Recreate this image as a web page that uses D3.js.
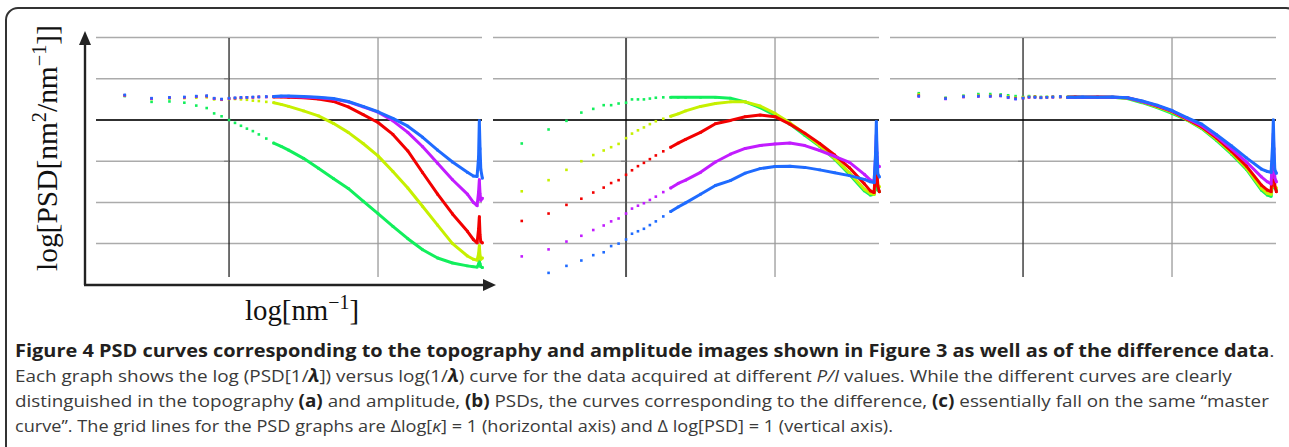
<!DOCTYPE html>
<html>
<head>
<meta charset="utf-8">
<script src="https://cdn.jsdelivr.net/npm/d3@7"></script>
<style>
  body { margin: 0; background: #fff; }
  svg { display: block; }
</style>
</head>
<body>
<div id="chart"></div>
<script>
// log10 of spatial frequency (grid unit = one decade)
const logK = [-0.70, -0.52, -0.40, -0.30, -0.22, -0.15, -0.10, -0.05, 0.00, 0.04, 0.08, 0.12, 0.16, 0.20, 0.25, 0.30, 0.35, 0.40, 0.50, 0.60, 0.70, 0.80, 0.90, 1.00, 1.10, 1.20, 1.30, 1.40, 1.50, 1.60, 1.64, 1.665, 1.675, 1.68, 1.685, 1.69, 1.70];

// (a) topography
const topoGreen   = [0.58, 0.44, 0.45, 0.42, 0.35, 0.29, 0.16, 0.09, 0.00, -0.07, -0.14, -0.21, -0.27, -0.35, -0.45, -0.56, -0.64, -0.73, -0.93, -1.17, -1.42, -1.66, -1.97, -2.27, -2.58, -2.88, -3.15, -3.35, -3.47, -3.54, -3.56, -3.57, -3.50, -3.42, -3.50, -3.56, -3.58];
const topoYellow  = [0.59, 0.51, 0.52, 0.53, 0.54, 0.55, 0.50, 0.49, 0.51, 0.51, 0.50, 0.49, 0.47, 0.46, 0.44, 0.42, 0.38, 0.33, 0.22, 0.10, -0.08, -0.30, -0.57, -0.87, -1.25, -1.65, -2.10, -2.55, -3.00, -3.30, -3.38, -3.40, -3.25, -3.05, -3.30, -3.38, -3.35];
const topoRed     = [0.60, 0.52, 0.54, 0.55, 0.57, 0.58, 0.52, 0.50, 0.52, 0.53, 0.54, 0.55, 0.55, 0.56, 0.56, 0.56, 0.56, 0.55, 0.54, 0.51, 0.45, 0.32, 0.13, -0.06, -0.35, -0.75, -1.28, -1.80, -2.28, -2.70, -2.90, -2.98, -2.65, -2.35, -2.80, -2.95, -2.98];
const topoMagenta = [0.60, 0.52, 0.54, 0.55, 0.57, 0.58, 0.52, 0.50, 0.52, 0.53, 0.54, 0.55, 0.55, 0.56, 0.56, 0.57, 0.57, 0.57, 0.56, 0.54, 0.51, 0.44, 0.32, 0.19, -0.02, -0.30, -0.65, -1.05, -1.45, -1.80, -2.00, -2.08, -1.75, -1.45, -1.80, -1.95, -1.90];
const topoBlue    = [0.61, 0.53, 0.55, 0.56, 0.58, 0.59, 0.53, 0.51, 0.53, 0.54, 0.55, 0.55, 0.56, 0.56, 0.57, 0.57, 0.58, 0.58, 0.57, 0.55, 0.52, 0.45, 0.33, 0.20, 0.04, -0.15, -0.42, -0.73, -1.02, -1.27, -1.36, -1.37, -0.90, -0.02, -0.70, -1.20, -1.41];

// (b) amplitude
const ampGreen   = [-0.57, -0.23, -0.02, 0.18, 0.27, 0.36, 0.36, 0.40, 0.42, 0.50, 0.50, 0.50, 0.52, 0.54, 0.55, 0.55, 0.55, 0.55, 0.55, 0.55, 0.53, 0.44, 0.30, 0.12, -0.10, -0.37, -0.64, -0.95, -1.32, -1.72, -1.82, -1.80, -1.60, -1.50, -1.60, -1.70, -1.74];
const ampYellow  = [-1.73, -1.46, -1.21, -1.00, -0.85, -0.74, -0.66, -0.58, -0.44, -0.33, -0.25, -0.18, -0.10, -0.03, 0.03, 0.09, 0.15, 0.22, 0.33, 0.40, 0.44, 0.44, 0.34, 0.16, -0.07, -0.33, -0.62, -0.93, -1.28, -1.68, -1.78, -1.80, -1.20, -0.65, -1.30, -1.58, -1.62];
const ampRed     = [-2.45, -2.27, -2.06, -1.91, -1.76, -1.64, -1.53, -1.46, -1.33, -1.22, -1.12, -1.04, -0.95, -0.86, -0.76, -0.66, -0.56, -0.47, -0.30, -0.09, -0.01, 0.08, 0.12, 0.08, -0.10, -0.32, -0.57, -0.85, -1.16, -1.55, -1.72, -1.76, -1.20, -0.65, -1.30, -1.60, -1.74];
const ampMagenta = [-3.31, -3.14, -2.95, -2.81, -2.67, -2.56, -2.46, -2.39, -2.27, -2.15, -2.08, -2.02, -1.94, -1.86, -1.75, -1.65, -1.54, -1.46, -1.27, -1.02, -0.83, -0.69, -0.62, -0.58, -0.56, -0.62, -0.74, -0.88, -1.03, -1.32, -1.46, -1.50, -0.90, -0.36, -0.90, -1.10, -1.13];
const ampBlue    = [null, -3.71, -3.54, -3.41, -3.28, -3.21, -3.06, -3.00, -2.90, -2.76, -2.70, -2.64, -2.55, -2.46, -2.34, -2.22, -2.11, -2.01, -1.80, -1.59, -1.47, -1.29, -1.18, -1.13, -1.12, -1.15, -1.21, -1.28, -1.35, -1.44, -1.50, -1.52, -0.80, -0.04, -0.80, -1.30, -1.38];

// (c) difference
const diffGreen   = [0.65, 0.54, 0.59, 0.63, 0.63, 0.62, 0.60, 0.58, 0.56, 0.58, 0.57, 0.56, 0.56, 0.56, 0.56, 0.56, 0.56, 0.55, 0.55, 0.55, 0.52, 0.42, 0.30, 0.16, 0.00, -0.21, -0.50, -0.83, -1.20, -1.70, -1.82, -1.85, -1.50, -1.20, -1.50, -1.65, -1.70];
const diffYellow  = [0.62, 0.53, 0.58, 0.60, 0.60, 0.60, 0.57, 0.54, 0.55, 0.57, 0.56, 0.55, 0.56, 0.56, 0.56, 0.56, 0.56, 0.55, 0.55, 0.55, 0.53, 0.44, 0.32, 0.19, 0.01, -0.19, -0.47, -0.80, -1.17, -1.66, -1.78, -1.80, -1.40, -1.00, -1.40, -1.62, -1.65];
const diffRed     = [0.59, 0.52, 0.56, 0.58, 0.58, 0.59, 0.55, 0.52, 0.53, 0.55, 0.56, 0.54, 0.55, 0.56, 0.56, 0.55, 0.56, 0.55, 0.56, 0.55, 0.54, 0.45, 0.34, 0.21, 0.02, -0.17, -0.44, -0.76, -1.12, -1.58, -1.70, -1.74, -1.10, -0.65, -1.20, -1.60, -1.74];
const diffMagenta = [0.57, 0.51, 0.56, 0.57, 0.57, 0.58, 0.54, 0.51, 0.53, 0.55, 0.55, 0.54, 0.55, 0.55, 0.56, 0.55, 0.55, 0.55, 0.55, 0.55, 0.54, 0.45, 0.35, 0.22, 0.04, -0.14, -0.40, -0.70, -1.02, -1.38, -1.50, -1.55, -0.90, -0.32, -1.00, -1.40, -1.50];
const diffBlue    = [0.58, 0.52, 0.57, 0.58, 0.58, 0.59, 0.55, 0.51, 0.53, 0.56, 0.55, 0.54, 0.55, 0.56, 0.57, 0.55, 0.55, 0.56, 0.55, 0.56, 0.54, 0.46, 0.36, 0.23, 0.06, -0.10, -0.36, -0.63, -0.92, -1.19, -1.25, -1.27, -0.60, 0.00, -0.70, -1.20, -1.29];

const seriesColors = ['#12ef5c', '#c6f000', '#f20000', '#c21cff', '#1f6bff'];
const panels = [
  [topoGreen, topoYellow, topoRed, topoMagenta, topoBlue],
  [ampGreen, ampYellow, ampRed, ampMagenta, ampBlue],
  [diffGreen, diffYellow, diffRed, diffMagenta, diffBlue]
];

const yGrid = [2, 1, 0, -1, -2, -3];
const xGrid = [0, 1];
const yTicks = [1, -1];

const captionLines = [
  [['Figure 4 PSD curves corresponding to the topography and amplitude images shown in Figure 3 as well as of the difference data', 'b'], ['.', 'n']],
  [['Each graph shows the log (PSD[1/', 'n'], ['λ', 'bi'], [']) versus log(1/', 'n'], ['λ', 'bi'], [') curve for the data acquired at different ', 'n'], ['P/I', 'i'], [' values. While the different curves are clearly', 'n']],
  [['distinguished in the topography ', 'n'], ['(a)', 'b'], [' and amplitude, ', 'n'], ['(b)', 'b'], [' PSDs, the curves corresponding to the difference, ', 'n'], ['(c)', 'b'], [' essentially fall on the same \u201Cmaster', 'n']],
  [['curve\u201D. The grid lines for the PSD graphs are \u0394log[', 'n'], ['\u03BA', 'i'], ['] = 1 (horizontal axis) and \u0394 log[PSD] = 1 (vertical axis).', 'n']]
];
const captionEnds = [1276, 1232, 1270, 893];

const W = 1289, H = 447;
const svg = d3.select('#chart').append('svg')
  .attr('width', W)
  .attr('height', H);

// rounded figure frame
svg.append('rect')
  .attr('x', 6).attr('y', 8)
  .attr('width', 1292).attr('height', 600)
  .attr('rx', 12)
  .attr('fill', 'none')
  .attr('stroke', '#333')
  .attr('stroke-width', 2);

const panelW = 386;
const panelStep = 397;
const plotLeft = 96;

const x = d3.scaleLinear().domain([-0.893, 1.698]).range([0, panelW]);
const y = d3.scaleLinear().domain([-3.81, 1.99]).range([277, 38]);

const line = d3.line()
  .x(d => x(d[0]))
  .y(d => y(d[1]));

const zeroStroke = ['#111', '#555', '#333'];
const zeroWidth = [1.2, 2, 1.4];

panels.forEach((series, i) => {
  const g = svg.append('g').attr('transform', `translate(${plotLeft + panelStep * i},0)`);

  g.selectAll('line.h').data(yGrid).join('line')
    .attr('class', 'h')
    .attr('x1', 0).attr('x2', panelW)
    .attr('y1', d => y(d)).attr('y2', d => y(d))
    .attr('stroke', '#ababab')
    .attr('stroke-width', 1.5);

  g.selectAll('line.v').data(xGrid).join('line')
    .attr('class', 'v')
    .attr('x1', d => x(d)).attr('x2', d => x(d))
    .attr('y1', y(1.99)).attr('y2', y(-3.81))
    .attr('stroke', d => d === 0 ? zeroStroke[i] : '#9a9a9a')
    .attr('stroke-width', d => d === 0 ? zeroWidth[i] : 1.3);

  // black horizontal line at log PSD = 0
  g.append('line')
    .attr('x1', 0).attr('x2', panelW)
    .attr('y1', y(0)).attr('y2', y(0))
    .attr('stroke', '#000')
    .attr('stroke-width', 1.6);

  // tiny tick marks on the vertical zero line
  g.selectAll('line.t').data(yTicks).join('line')
    .attr('class', 't')
    .attr('x1', x(0) - 5).attr('x2', x(0))
    .attr('y1', d => y(d)).attr('y2', d => y(d))
    .attr('stroke', '#777')
    .attr('stroke-width', 1);

  series.forEach((vals, s) => {
    const pts = logK.map((k, j) => [k, vals[j]]).filter(d => d[1] != null);
    const col = seriesColors[s];

    g.append('path')
      .datum(pts.filter(d => d[0] >= 0.3))
      .attr('d', line)
      .attr('fill', 'none')
      .attr('stroke', col)
      .attr('stroke-width', 3)
      .attr('stroke-linejoin', 'round')
      .attr('stroke-linecap', 'round');

    g.selectAll(null).data(pts).join('rect')
      .attr('x', d => x(d[0]) - 1.3)
      .attr('y', d => y(d[1]) - 1.3)
      .attr('width', 2.6)
      .attr('height', 2.6)
      .attr('fill', col);
  });
});

// axis arrows (first panel only)
const ax = svg.append('g').attr('stroke', '#222').attr('fill', '#222');
ax.append('line').attr('x1', 85).attr('y1', 285).attr('x2', 85).attr('y2', 42).attr('stroke-width', 2.4);
ax.append('line').attr('x1', 84).attr('y1', 285).attr('x2', 485).attr('y2', 285).attr('stroke-width', 2.4);
ax.append('path').attr('stroke', 'none').attr('d', 'M85,31 L79,45 L91,45 Z');
ax.append('path').attr('stroke', 'none').attr('d', 'M496,285 L483,279 L483,291 Z');

// axis labels
const serif = "'Liberation Serif', 'Times New Roman', serif";
const yl = svg.append('text')
  .attr('transform', 'translate(57,148) rotate(-90)')
  .attr('text-anchor', 'middle')
  .attr('font-family', serif)
  .attr('font-size', 29)
  .attr('fill', '#111')
  .attr('textLength', 246)
  .attr('lengthAdjust', 'spacingAndGlyphs');
yl.append('tspan').text('log[PSD[nm');
yl.append('tspan').attr('font-size', 20).attr('dy', -11).text('2');
yl.append('tspan').attr('dy', 11).text('/nm');
yl.append('tspan').attr('font-size', 20).attr('dy', -11).text('\u22121');
yl.append('tspan').attr('dy', 11).text(']]');

const xl = svg.append('text')
  .attr('x', 302).attr('y', 320)
  .attr('text-anchor', 'middle')
  .attr('font-family', serif)
  .attr('font-size', 29)
  .attr('fill', '#111')
  .attr('textLength', 114)
  .attr('lengthAdjust', 'spacingAndGlyphs');
xl.append('tspan').text('log[nm');
xl.append('tspan').attr('font-size', 20).attr('dy', -11).text('\u22121');
xl.append('tspan').attr('dy', 11).text(']');

// caption, each line squeezed to the width it has in the figure
const capX = 15;
const capBase = [357, 382, 407, 432];
captionLines.forEach((segs, li) => {
  const gl = svg.append('g');
  const t = gl.append('text')
    .attr('font-family', "'Open Sans', sans-serif")
    .attr('font-size', 17)
    .attr('fill', '#3a3a3a');
  segs.forEach(([txt, st]) => {
    const sp = t.append('tspan').text(txt);
    if (st.includes('b')) sp.attr('font-weight', 'bold').attr('fill', '#231f20');
    if (st.includes('i')) sp.attr('font-style', 'italic');
  });
  const natural = t.node().getComputedTextLength();
  const sx = (captionEnds[li] - capX) / natural;
  gl.attr('transform', `translate(${capX},${capBase[li]}) scale(${sx},1)`);
});
</script>
</body>
</html>
